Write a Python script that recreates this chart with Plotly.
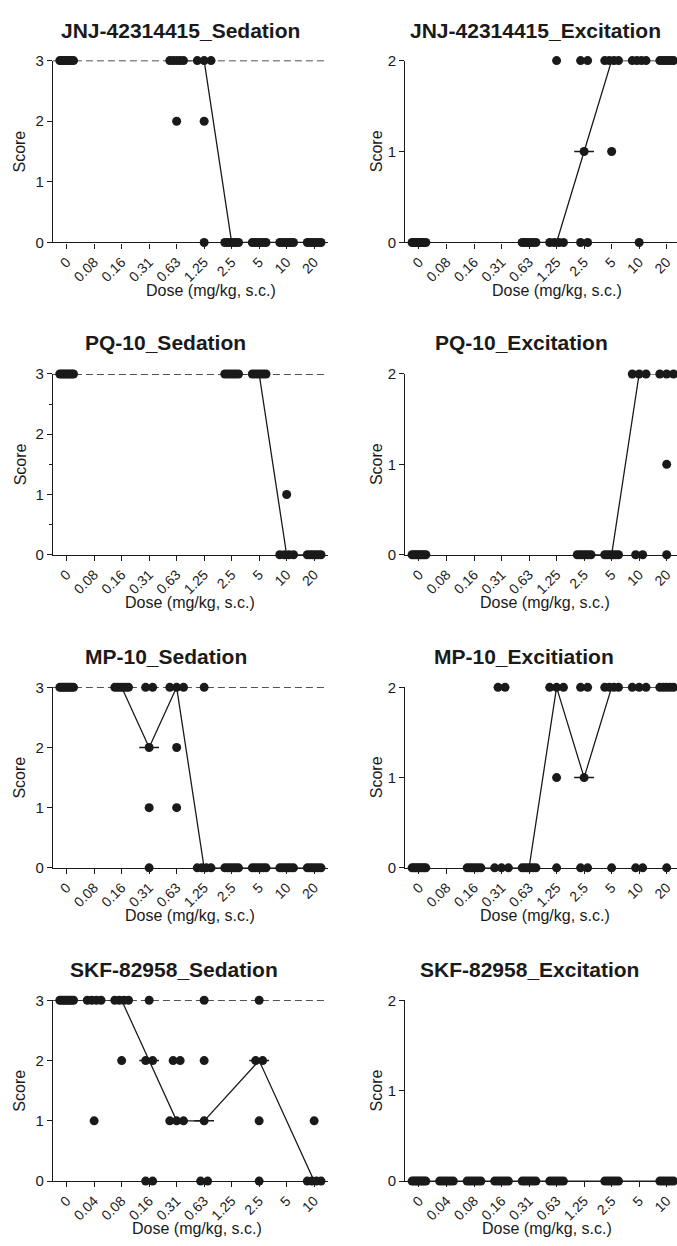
import numpy as np
import plotly.graph_objects as go

# ---------------- data ----------------
doses_main = ["0", "0.08", "0.16", "0.31", "0.63", "1.25", "2.5", "5", "10", "20"]
doses_skf = ["0", "0.04", "0.08", "0.16", "0.31", "0.63", "1.25", "2.5", "5", "10"]

jnj_sedation = [
    [3, 3, 3, 3, 3, 3, 3, 3],
    [], [], [],
    [3, 3, 3, 3, 3, 2],
    [3, 3, 3, 2, 0],
    [0, 0, 0, 0, 0, 0],
    [0, 0, 0, 0, 0, 0],
    [0, 0, 0, 0, 0, 0],
    [0, 0, 0, 0, 0, 0],
]
jnj_excitation = [
    [0, 0, 0, 0, 0, 0, 0, 0],
    [], [], [],
    [0, 0, 0, 0, 0, 0],
    [2, 0, 0, 0, 0],
    [2, 2, 1, 0, 0],
    [2, 2, 2, 2, 1],
    [2, 2, 2, 2, 0],
    [2, 2, 2, 2, 2, 2],
]
pq_sedation = [
    [3, 3, 3, 3, 3, 3, 3, 3],
    [], [], [], [], [],
    [3, 3, 3, 3, 3, 3],
    [3, 3, 3, 3, 3, 3],
    [1, 0, 0, 0, 0],
    [0, 0, 0, 0, 0, 0],
]
pq_excitation = [
    [0, 0, 0, 0, 0, 0, 0, 0],
    [], [], [], [], [],
    [0, 0, 0, 0, 0, 0],
    [0, 0, 0, 0, 0, 0],
    [2, 2, 2, 0, 0],
    [2, 2, 2, 1, 0],
]
mp_sedation = [
    [3, 3, 3, 3, 3, 3, 3, 3],
    [],
    [3, 3, 3, 3, 3, 3],
    [3, 3, 2, 1, 0],
    [3, 3, 3, 2, 1],
    [3, 0, 0, 0, 0],
    [0, 0, 0, 0, 0, 0],
    [0, 0, 0, 0, 0, 0],
    [0, 0, 0, 0, 0, 0],
    [0, 0, 0, 0, 0, 0],
]
mp_excitation = [
    [0, 0, 0, 0, 0, 0, 0, 0],
    [],
    [0, 0, 0, 0, 0, 0],
    [2, 2, 0, 0, 0],
    [0, 0, 0, 0, 0, 0],
    [2, 2, 2, 1, 0],
    [2, 2, 1, 0, 0],
    [2, 2, 2, 2, 0],
    [2, 2, 2, 0, 0],
    [2, 2, 2, 2, 2, 0],
]
skf_sedation = [
    [3, 3, 3, 3, 3, 3, 3, 3],
    [3, 3, 3, 3, 1],
    [3, 3, 3, 3, 2],
    [3, 2, 2, 0, 0],
    [2, 2, 1, 1, 1],
    [3, 2, 1, 0, 0],
    [],
    [3, 2, 2, 1, 0],
    [],
    [1, 0, 0, 0, 0],
]
skf_excitation = [
    [0, 0, 0, 0, 0, 0, 0, 0],
    [0, 0, 0, 0, 0, 0],
    [0, 0, 0, 0, 0, 0],
    [0, 0, 0, 0, 0, 0],
    [0, 0, 0, 0, 0, 0],
    [0, 0, 0, 0, 0, 0],
    [],
    [0, 0, 0, 0, 0, 0],
    [],
    [0, 0, 0, 0, 0, 0],
]

titles = ["JNJ-42314415_Sedation", "JNJ-42314415_Excitation",
          "PQ-10_Sedation", "PQ-10_Excitation",
          "MP-10_Sedation", "MP-10_Excitiation",
          "SKF-82958_Sedation", "SKF-82958_Excitation"]
y_title = "Score"
x_title = "Dose (mg/kg, s.c.)"

# ---------------- layout helpers ----------------
W, H = 677, 1246
INK = "#1a1a1a"
FONT = "Liberation Sans, Arial, sans-serif"

panels = [
    dict(data=jnj_sedation, doses=doses_main, ymax=3, col=0, row=0, gaps=False, minor=False),
    dict(data=jnj_excitation, doses=doses_main, ymax=2, col=1, row=0, gaps=False, minor=False),
    dict(data=pq_sedation, doses=doses_main, ymax=3, col=0, row=1, gaps=False, minor=True),
    dict(data=pq_excitation, doses=doses_main, ymax=2, col=1, row=1, gaps=False, minor=False),
    dict(data=mp_sedation, doses=doses_main, ymax=3, col=0, row=2, gaps=False, minor=False),
    dict(data=mp_excitation, doses=doses_main, ymax=2, col=1, row=2, gaps=False, minor=False),
    dict(data=skf_sedation, doses=doses_skf, ymax=3, col=0, row=3, gaps=True, minor=False),
    dict(data=skf_excitation, doses=doses_skf, ymax=2, col=1, row=3, gaps=True, minor=False),
]

col_px = [(52.9, 327.9), (405.2, 677.0)]
col_range = [[-0.5, 9.5], [-0.5, (677.0 - 419.0) / 27.52]]
row_px = [(52.3, 236.7), (370.0, 553.3), (687.7, 870.7), (1005.0, 1188.3)]
title_y = [21.7, 338.3, 656.0, 973.3]
title_x = [[180.5, 535.5], [165.0, 521.0], [166.0, 523.5], [174.0, 529.0]]
xlab_x = [[211.0, 557.0], [190.0, 545.0], [190.0, 545.0], [197.0, 547.0]]
ylab_x = [20.0, 376.7]

SP = 0.255      # spacing between adjacent points (category units)
MAXSPAN = 0.5   # maximum spread of a row of points
BAR = 0.36      # half width of median bar


def swarm_offsets(k):
    if k <= 1:
        return [0.0]
    s = min(SP, MAXSPAN / (k - 1))
    return [(i - (k - 1) / 2) * s for i in range(k)]


fig = go.Figure()
annotations = []
shapes = []

for i, p in enumerate(panels):
    n = i + 1
    xa = "x" if n == 1 else f"x{n}"
    ya = "y" if n == 1 else f"y{n}"
    xl = "xaxis" if n == 1 else f"xaxis{n}"
    yl = "yaxis" if n == 1 else f"yaxis{n}"
    c, r = p["col"], p["row"]

    px_x, py_y, mx, my = [], [], [], []
    bx, by = [], []
    for j, grp in enumerate(p["data"]):
        if len(grp) == 0:
            mx.append(j)
            my.append(None)
            continue
        vals = np.array(grp)
        for v in sorted(set(grp), reverse=True):
            k = int(np.sum(vals == v))
            for off in swarm_offsets(k):
                px_x.append(j + off)
                py_y.append(v)
        med = float(np.median(vals))
        mx.append(j)
        my.append(med)
        bx += [j - BAR, j + BAR, None]
        by += [med, med, None]

    fig.add_trace(go.Scatter(x=mx, y=my, mode="lines", connectgaps=p["gaps"],
                             line=dict(color=INK, width=1.3), xaxis=xa, yaxis=ya,
                             cliponaxis=False, hoverinfo="skip"))
    fig.add_trace(go.Scatter(x=px_x, y=py_y, mode="markers",
                             marker=dict(color=INK, size=9, line=dict(width=0)),
                             xaxis=xa, yaxis=ya, cliponaxis=False))
    fig.add_trace(go.Scatter(x=bx, y=by, mode="lines", line=dict(color=INK, width=1.6),
                             xaxis=xa, yaxis=ya, cliponaxis=False, hoverinfo="skip"))

    x0, x1 = col_px[c]
    ytop, ybot = row_px[r]
    xaxis = dict(domain=[x0 / W, x1 / W], range=col_range[c], anchor=ya,
                 tickmode="array", tickvals=list(range(len(p["doses"]))),
                 ticktext=p["doses"], tickangle=-45,
                 showline=True, linecolor=INK, linewidth=1.3,
                 ticks="outside", ticklen=5, tickwidth=1.2, tickcolor=INK,
                 showgrid=False, zeroline=False,
                 tickfont=dict(family=FONT, size=14, color=INK))
    yaxis = dict(domain=[1 - ybot / H, 1 - ytop / H], range=[0, p["ymax"]], anchor=xa,
                 tickmode="array", tickvals=list(range(p["ymax"] + 1)),
                 showline=True, linecolor=INK, linewidth=1.3,
                 ticks="outside", ticklen=5, tickwidth=1.2, tickcolor=INK,
                 showgrid=False, zeroline=False,
                 tickfont=dict(family=FONT, size=15, color=INK))
    if p["minor"]:
        yaxis["minor"] = dict(tickvals=[0.5, 1.5, 2.5], ticks="outside", ticklen=3,
                              tickwidth=1, tickcolor=INK, showgrid=False)
    fig.update_layout(**{xl: xaxis, yl: yaxis})

    if p["ymax"] == 3:
        shapes.append(dict(type="line", xref=f"{xa} domain", yref=ya,
                           x0=0, x1=1, y0=3, y1=3, layer="above",
                           line=dict(color=INK, width=1.4, dash="7px,4px")))

    annotations.append(dict(text=f"<b>{titles[i]}</b>", x=title_x[r][c] / W, y=1 - title_y[r] / H,
                            xref="paper", yref="paper", xanchor="center", yanchor="middle",
                            showarrow=False, font=dict(family=FONT, size=21, color=INK)))
    annotations.append(dict(text=x_title, x=xlab_x[r][c] / W, y=1 - (ybot + 48.5) / H,
                            xref="paper", yref="paper", xanchor="center", yanchor="middle",
                            showarrow=False, font=dict(family=FONT, size=16, color=INK)))
    annotations.append(dict(text=y_title, x=ylab_x[c] / W, y=1 - ((ytop + ybot) / 2) / H,
                            xref="paper", yref="paper", xanchor="center", yanchor="middle",
                            textangle=-90, showarrow=False,
                            font=dict(family=FONT, size=16, color=INK)))

fig.update_layout(width=W, height=H, margin=dict(l=0, r=0, t=0, b=0),
                  paper_bgcolor="white", plot_bgcolor="white", showlegend=False,
                  annotations=annotations, shapes=shapes)

fig.write_html("out.html")
